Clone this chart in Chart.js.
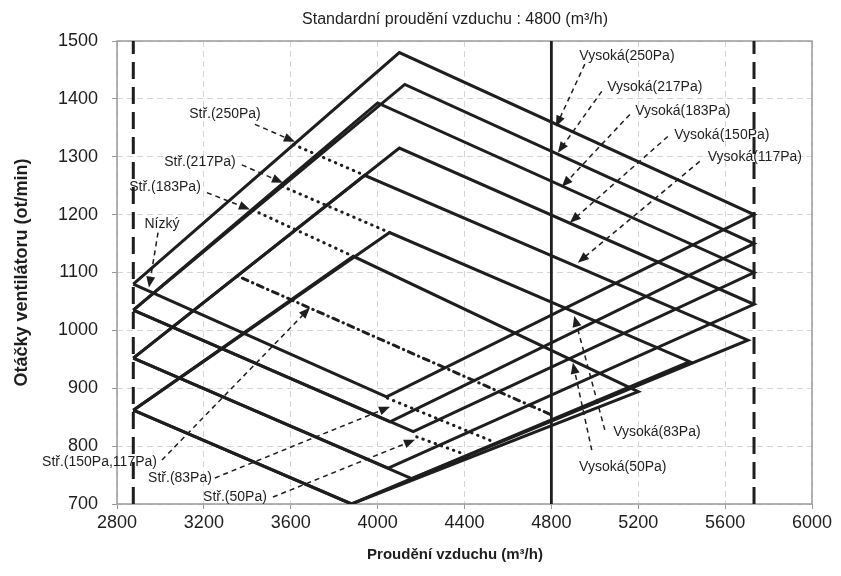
<!DOCTYPE html>
<html>
<head>
<meta charset="utf-8">
<script src="https://cdn.jsdelivr.net/npm/chart.js@4.4.1/dist/chart.umd.min.js"></script>
<style>
  html, body { margin: 0; padding: 0; background: #fff; }
  #wrap { width: 841px; height: 576px; }
</style>
</head>
<body>
<div id="wrap"><canvas id="chart" width="841" height="576"></canvas></div>
<script>
// Fan speed vs airflow, one closed loop per external static pressure
const xTicks = [2800, 3200, 3600, 4000, 4400, 4800, 5200, 5600, 6000];
const yTicks = [700, 800, 900, 1000, 1100, 1200, 1300, 1400, 1500];

// left, top, right, bottom, back to left
const loop250 = [[2875, 1080], [4100, 1480], [5733, 1200], [4041, 885], [2875, 1080]];
const loop217 = [[2875, 1035], [4125, 1425], [5733, 1150], [4057, 842], [2875, 1035]];
const loop183 = [[2875, 1035], [4000, 1393], [5733, 1100], [4164, 825], [2875, 1035]];
const loop150 = [[2875, 952], [4100, 1315], [5733, 1045], [4049, 762], [2875, 952]];
const loop117 = [[2875, 952], [3940, 1268], [5705, 983], [4157, 744], [2875, 952]];
const loop83 = [[2875, 862], [4055, 1169], [5437, 946], [3880, 700], [2875, 862]];
const loop50 = [[2875, 862], [3888, 1128], [5200, 894], [3880, 700], [2875, 862]];

// medium tap lines (dotted)
const mid250 = [[3613, 1321], [3940, 1268]];
const mid217 = [[3560, 1249], [4055, 1169]];
const mid183 = [[3426, 1208], [3888, 1128]];
const mid150117 = [[3354, 1094], [4800, 854]];
const mid83 = [[4045, 883], [4537, 807]];
const mid50 = [[4180, 816], [4400, 786]];

// airflow limits and the standard airflow
const minAirflow = [[2875, 700], [2875, 1500]];
const maxAirflow = [[5733, 700], [5733, 1500]];
const stdAirflow = [[4800, 700], [4800, 1500]];

// callouts: label, label point, arrow tail, arrow tip (data units)
const notes = [
  { text: 'Stř.(250Pa)', at: [3297, 1373], align: 'center', from: [3435, 1356], to: [3619, 1326] },
  { text: 'Stř.(217Pa)', at: [3182, 1290], align: 'center', from: [3375, 1286], to: [3564, 1255] },
  { text: 'Stř.(183Pa)', at: [3021, 1248], align: 'center', from: [3214, 1238], to: [3412, 1209] },
  { text: 'Nízký', at: [3007, 1183], align: 'center', from: [2989, 1169], to: [2947, 1074] },
  { text: 'Stř.(150Pa,117Pa)', at: [2984, 773], align: 'right', from: [3007, 776], to: [3688, 1039] },
  { text: 'Stř.(83Pa)', at: [3237, 745], align: 'right', from: [3251, 745], to: [4057, 868] },
  { text: 'Stř.(50Pa)', at: [3490, 712], align: 'right', from: [3518, 712], to: [4172, 811] },
  { text: 'Vysoká(250Pa)', at: [5148, 1473], align: 'center', from: [4954, 1460], to: [4821, 1352] },
  { text: 'Vysoká(217Pa)', at: [5276, 1421], align: 'center', from: [5032, 1413], to: [4830, 1307] },
  { text: 'Vysoká(183Pa)', at: [5405, 1378], align: 'center', from: [5161, 1373], to: [4848, 1248] },
  { text: 'Vysoká(150Pa)', at: [5585, 1338], align: 'center', from: [5336, 1335], to: [4885, 1186] },
  { text: 'Vysoká(117Pa)', at: [5737, 1299], align: 'center', from: [5483, 1292], to: [4922, 1117] },
  { text: 'Vysoká(83Pa)', at: [5286, 825], align: 'center', from: [5046, 828], to: [4905, 1025] },
  { text: 'Vysoká(50Pa)', at: [5129, 764], align: 'center', from: [4986, 793], to: [4899, 944] },
];

const INK = '#1e1e1e';
const FONT = '"Liberation Sans", Arial, sans-serif';

const toXY = (pts) => pts.map(([x, y]) => ({ x, y }));

function solid(data) {
  return { data: toXY(data), showLine: true, borderColor: INK, borderWidth: 3, pointRadius: 0, tension: 0, borderJoinStyle: 'miter' };
}
function dotted(data, dash) {
  return { data: toXY(data), showLine: true, borderColor: INK, borderWidth: 3, pointRadius: 0, borderDash: dash, borderCapStyle: 'round' };
}

const datasets = [
  solid(loop250), solid(loop217), solid(loop183), solid(loop150),
  solid(loop117), solid(loop83), solid(loop50),
  dotted(mid250, [0.5, 6]), dotted(mid217, [0.5, 6]), dotted(mid183, [0.5, 6]),
  dotted(mid150117, [0.5, 5, 6, 5]), dotted(mid83, [0.5, 6]), dotted(mid50, [0.5, 6]),
  { data: toXY(minAirflow), showLine: true, borderColor: INK, borderWidth: 3, pointRadius: 0, borderDash: [17, 8] },
  { data: toXY(maxAirflow), showLine: true, borderColor: INK, borderWidth: 3, pointRadius: 0, borderDash: [17, 8] },
  { data: toXY(stdAirflow), showLine: true, borderColor: INK, borderWidth: 2.8, pointRadius: 0 },
];

const framePlugin = {
  id: 'frame',
  beforeDatasetsDraw(chart) {
    const { ctx, chartArea: a } = chart;
    ctx.save();
    ctx.strokeStyle = '#9a9a9a';
    ctx.lineWidth = 1.5;
    ctx.strokeRect(a.left, a.top, a.right - a.left, a.bottom - a.top);
    ctx.restore();
  },
  afterDraw(chart) {
    const { ctx } = chart;
    ctx.save();
    ctx.fillStyle = INK;
    ctx.textAlign = 'center';
    ctx.textBaseline = 'middle';
    ctx.font = '16px ' + FONT;
    ctx.fillText('Standardní proudění vzduchu : 4800 (m³/h)', 455, 20);
    ctx.font = 'bold 15px ' + FONT;
    ctx.fillText('Proudění vzduchu (m³/h)', 455, 555);
    ctx.restore();
  },
};

function arrowHead(ctx, x0, y0, x1, y1) {
  const ang = Math.atan2(y1 - y0, x1 - x0);
  const len = 11, half = 4.5;
  ctx.beginPath();
  ctx.moveTo(x1, y1);
  ctx.lineTo(x1 - len * Math.cos(ang) + half * Math.sin(ang), y1 - len * Math.sin(ang) - half * Math.cos(ang));
  ctx.lineTo(x1 - len * Math.cos(ang) - half * Math.sin(ang), y1 - len * Math.sin(ang) + half * Math.cos(ang));
  ctx.closePath();
  ctx.fill();
}

const notesPlugin = {
  id: 'notes',
  afterDatasetsDraw(chart) {
    const { ctx, scales: { x, y } } = chart;
    ctx.save();
    ctx.fillStyle = INK;
    ctx.strokeStyle = INK;
    notes.forEach((n) => {
      const x0 = x.getPixelForValue(n.from[0]), y0 = y.getPixelForValue(n.from[1]);
      const x1 = x.getPixelForValue(n.to[0]), y1 = y.getPixelForValue(n.to[1]);
      const d = Math.hypot(x1 - x0, y1 - y0);
      const ex = x1 - (x1 - x0) * 9 / d, ey = y1 - (y1 - y0) * 9 / d;
      ctx.lineWidth = 1.5;
      ctx.setLineDash([5, 4]);
      ctx.beginPath();
      ctx.moveTo(x0, y0);
      ctx.lineTo(ex, ey);
      ctx.stroke();
      ctx.setLineDash([]);
      arrowHead(ctx, x0, y0, x1, y1);
      ctx.font = '14px ' + FONT;
      ctx.textAlign = n.align;
      ctx.textBaseline = 'middle';
      ctx.fillText(n.text, x.getPixelForValue(n.at[0]), y.getPixelForValue(n.at[1]));
    });
    ctx.restore();
  },
};

new Chart(document.getElementById('chart'), {
  type: 'scatter',
  data: { datasets },
  plugins: [framePlugin, notesPlugin],
  options: {
    responsive: false,
    animation: false,
    devicePixelRatio: 1,
    layout: { padding: { top: 41, right: 29, left: 0, bottom: 0 } },
    plugins: { legend: { display: false }, tooltip: { enabled: false } },
    scales: {
      x: {
        type: 'linear', min: 2800, max: 6000,
        afterBuildTicks: (s) => { s.ticks = xTicks.map((v) => ({ value: v })); },
        afterFit: (s) => { s.height = 72; },
        grid: { color: '#d6d6d6', tickLength: 5, tickColor: '#9a9a9a', tickBorderDash: [] },
        border: { display: false, dash: [6, 4] },
        ticks: { color: INK, font: { family: FONT, size: 18 }, padding: 3, maxRotation: 0, callback: (v) => String(v) },
      },
      y: {
        type: 'linear', min: 700, max: 1500,
        afterBuildTicks: (s) => { s.ticks = yTicks.map((v) => ({ value: v })); },
        afterFit: (s) => { s.width = 117; },
        grid: { color: '#d6d6d6', tickLength: 5, tickColor: '#9a9a9a', tickBorderDash: [] },
        border: { display: false, dash: [6, 4] },
        ticks: { color: INK, font: { family: FONT, size: 18 }, padding: 14, callback: (v) => String(v) },
        title: { display: true, text: 'Otáčky ventilátoru (ot/min)', color: INK, font: { family: FONT, size: 18, weight: 'bold' }, padding: { top: 11 } },
      },
    },
  },
});
</script>
</body>
</html>
